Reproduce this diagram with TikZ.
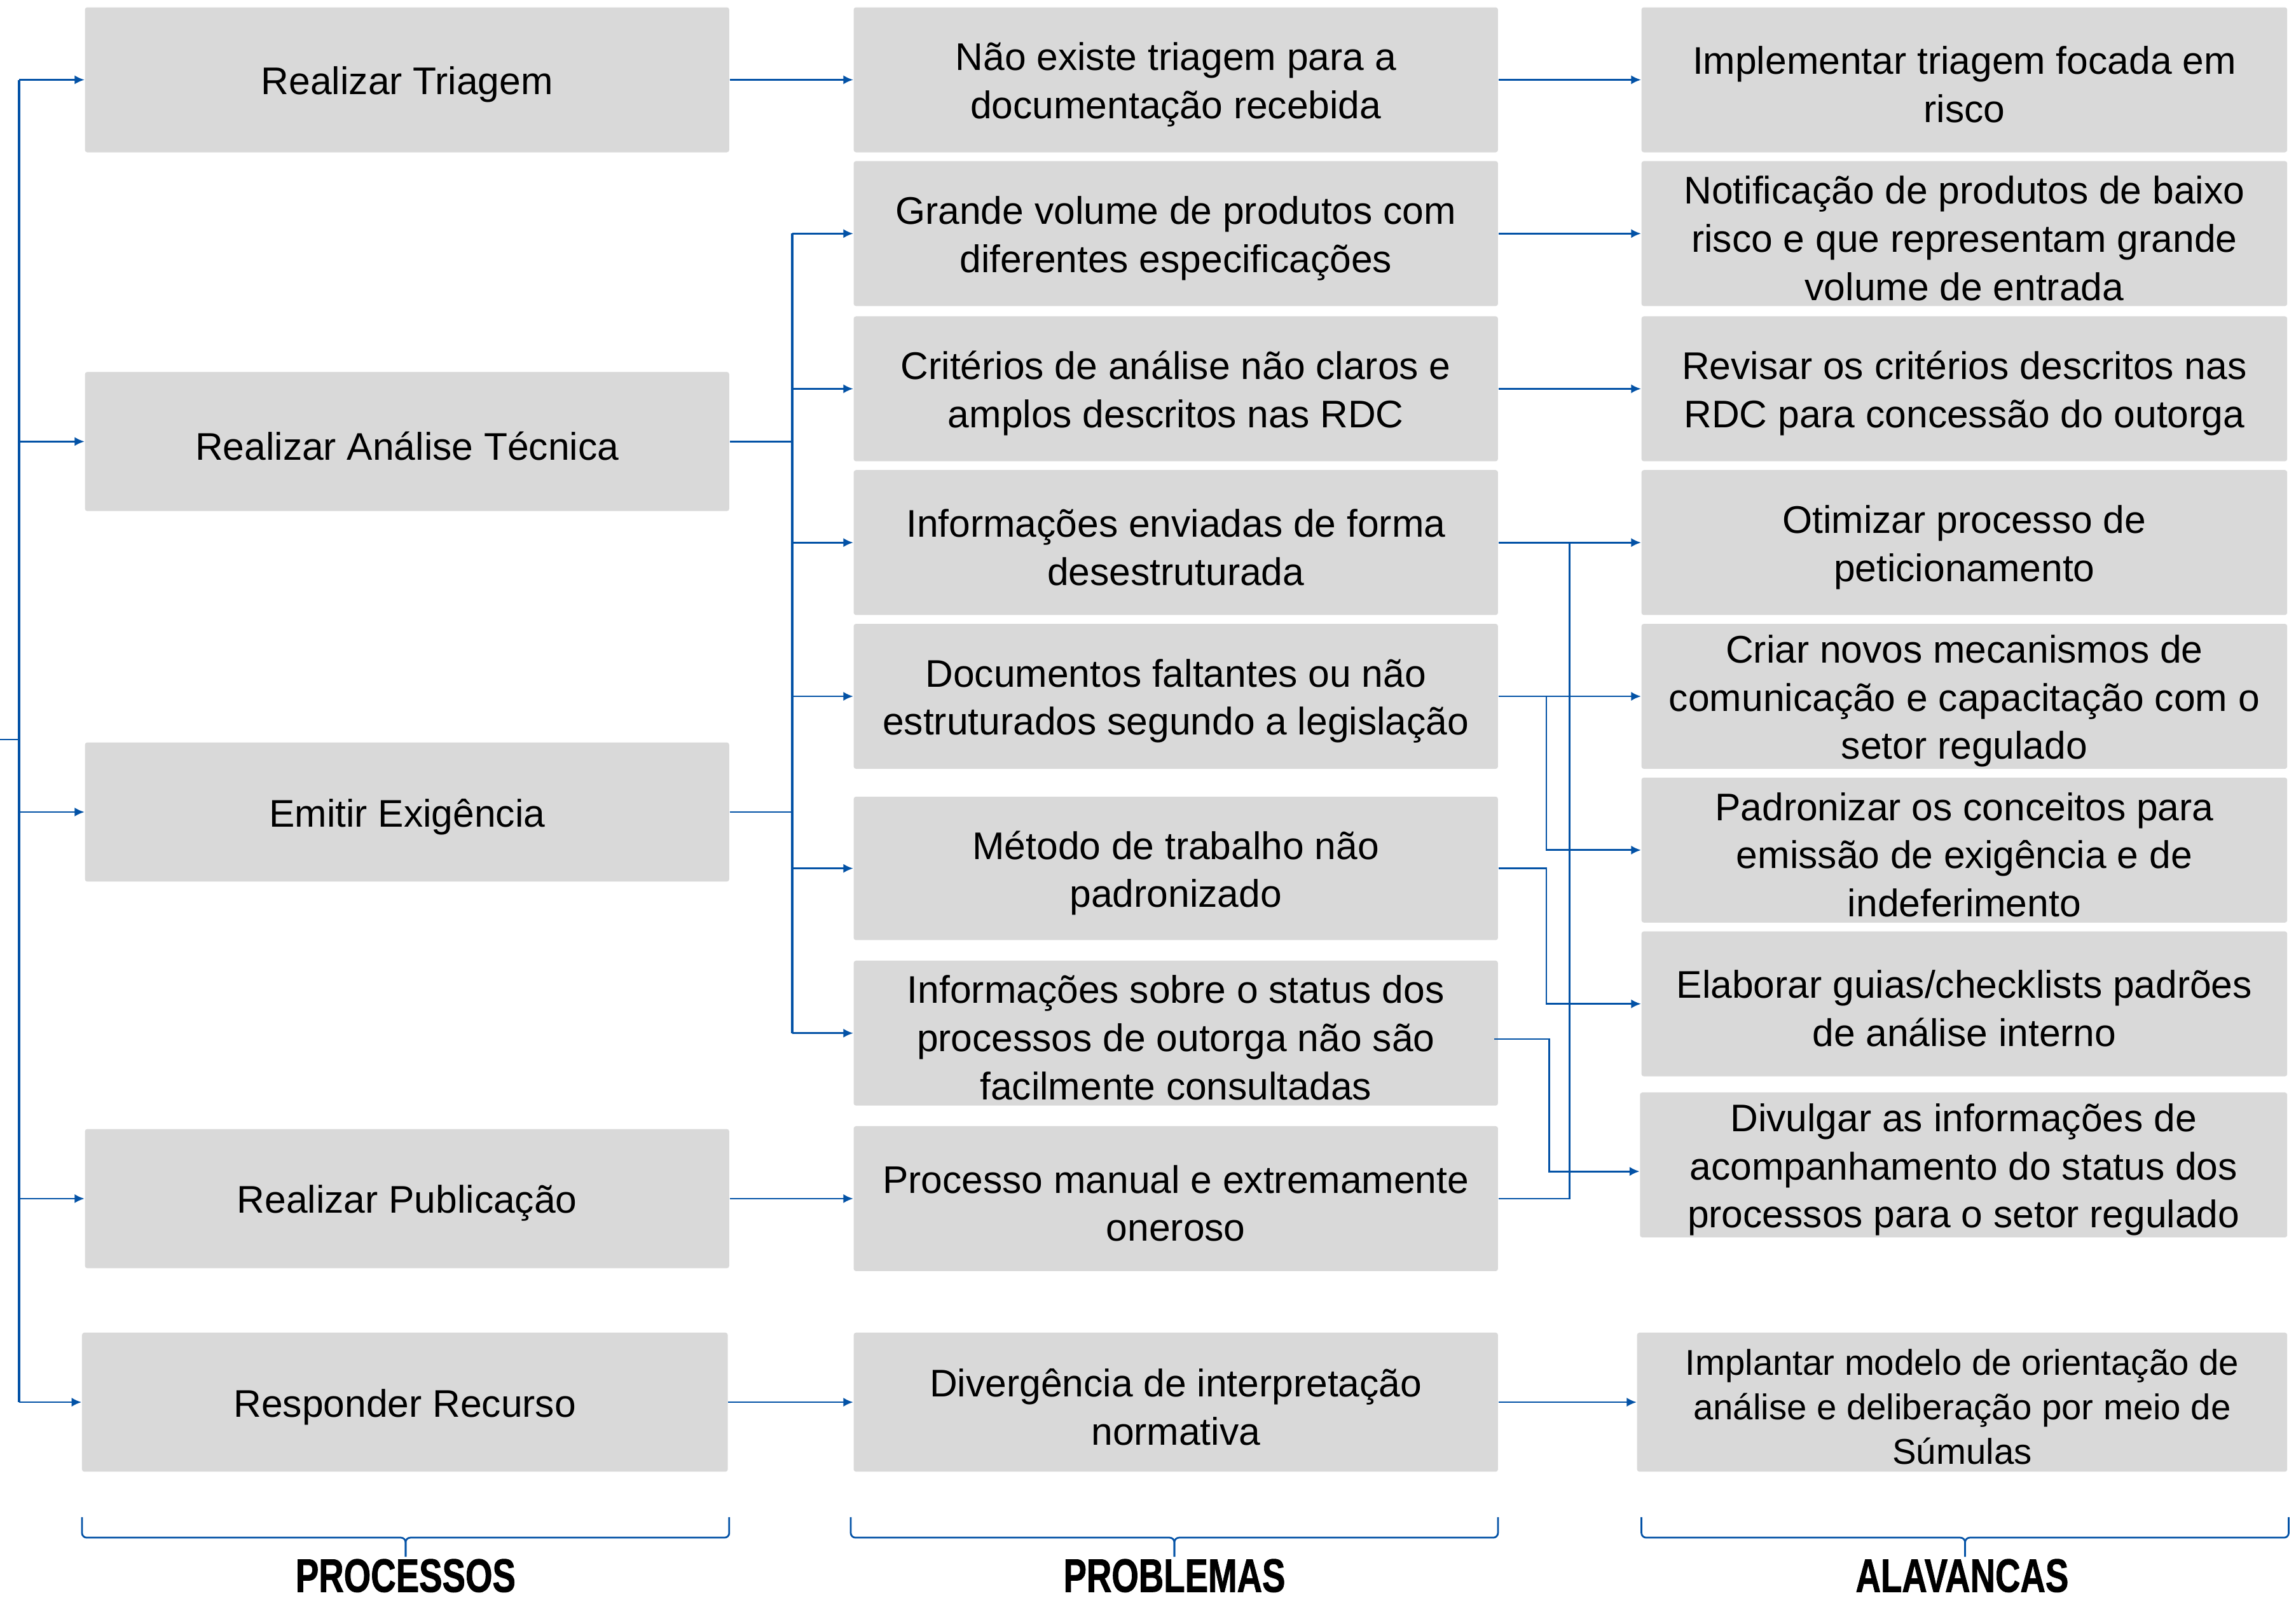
\documentclass[tikz,border=0pt]{standalone}
\usepackage{fontspec}
\setmainfont{Liberation Sans}
\newfontfamily\headfont{Liberation Sans}[BoldFeatures={FakeBold=1.3}]
\usetikzlibrary{arrows.meta,positioning}
\definecolor{lnkblue}{HTML}{0352A6}
\definecolor{boxgrey}{HTML}{D9D9D9}
\tikzset{every node/.style={font=\fontsize{18.7}{23.4}\selectfont},
  card/.style={fill=boxgrey,rounded corners=0.4mm,inner sep=0pt,
    minimum width=110mm,minimum height=24.75mm},
  cardtxt/.style={align=center,inner sep=0pt},
  headlabel/.style={font=\fontsize{22.8}{26}\selectfont\headfont\bfseries,anchor=base,inner sep=0pt}}
\newcommand{\fN}{\fontsize{17.4}{21.6}\selectfont}
% grey box with its text set a little below the middle
\newcommand{\card}[4][]{%
  \node[card,#1] (#2) at (#3) {};
  \node[cardtxt,#1] (#2t) at ([yshift=-0.8mm]#2.center) {#4};}
\newcommand{\bracket}[2]{%
  \pgfmathsetmacro{\xm}{(#1+#2)/2}%
  \draw[brk] (#1,1036) -- (#1,1050) -- (\xm,1050) -- (\xm,1063);
  \draw[brk] (#2,1036) -- (#2,1050) -- (\xm,1050) -- (\xm,1063);}

\begin{document}
\begin{tikzpicture}[x=0.25mm,y=-0.25mm,
    lnk/.style={draw=lnkblue,line width=0.85pt},
    bus/.style={draw=lnkblue,line width=1.15pt},
    arr/.style={lnk,-{Latex[length=1.7mm,width=1.55mm]}},
    brk/.style={draw=lnkblue,line width=0.85pt,rounded corners=0.8mm}]
  \path[use as bounding box] (0,0) rectangle (1568,1091);

  % Processos
  \card{proc1}{278,54.5}{Realizar Triagem}
  \card[minimum height=23.75mm]{proc2}{278,301.5}{Realizar Análise Técnica}
  \card[minimum height=23.75mm]{proc3}{278,554.5}{Emitir Exigência}
  \card[minimum height=23.75mm]{proc4}{278,818.5}{Realizar Publicação}
  \card[minimum height=23.75mm,minimum width=110.25mm]{proc5}{276.5,957.5}{Responder Recurso}

  % Problemas
  \card{prob1}{803,54.5}{Não existe triagem para a\\documentação recebida}
  \card{prob2}{803,159.5}{Grande volume de produtos com\\diferentes especificações}
  \card{prob3}{803,265.5}{Critérios de análise não claros e\\amplos descritos nas RDC}
  \card{prob4}{803,370.5}{Informações enviadas de forma\\desestruturada}
  \card{prob5}{803,475.5}{Documentos faltantes ou não\\estruturados segundo a legislação}
  \card[minimum height=24.5mm]{prob6}{803,593}{Método de trabalho não\\padronizado}
  \card{prob7}{803,705.5}{Informações sobre o status dos\\processos de outorga não são\\facilmente consultadas}
  \card{prob8}{803,818.5}{Processo manual e extremamente\\oneroso}
  \card[minimum height=23.75mm]{prob9}{803,957.5}{Divergência de interpretação\\normativa}

  % Alavancas
  \card[minimum width=110.25mm]{alav1}{1341.5,54.5}{Implementar triagem focada em\\risco}
  \card[minimum width=110.25mm]{alav2}{1341.5,159.5}{Notificação de produtos de baixo\\risco e que representam grande\\volume de entrada}
  \card[minimum width=110.25mm]{alav3}{1341.5,265.5}{Revisar os critérios descritos nas\\RDC para concessão do outorga}
  \card[minimum width=110.25mm]{alav4}{1341.5,370.5}{Otimizar processo de\\peticionamento}
  \card[minimum width=110.25mm]{alav5}{1341.5,475.5}{Criar novos mecanismos de\\comunicação e capacitação com o\\setor regulado}
  \card[minimum width=110.25mm]{alav6}{1341.5,580.5}{Padronizar os conceitos para\\emissão de exigência e de\\indeferimento}
  \card[minimum width=110.25mm]{alav7}{1341.5,685.5}{Elaborar guias/checklists padrões\\de análise interno}
  \card[minimum width=110.5mm]{alav8}{1341,795.5}{Divulgar as informações de\\acompanhamento do status dos\\processos para o setor regulado}
  \card[minimum width=111mm,minimum height=23.75mm,font=\fN]{alav9}{1340,957.5}{Implantar modelo de orientação de\\análise e deliberação por meio de\\Súmulas}

  % bus points
  \coordinate (root) at (0,505);
  \coordinate (lbus) at (13,505);
  \coordinate (mbus) at (541,0);
  \coordinate (rbusA) at (1072,0);
  \coordinate (rbusB) at (1056,0);
  \coordinate (rbusC) at (1058,0);
  \coordinate (p7out) at ([xshift=-0.75mm,yshift=-1mm]prob7.east);
  \coordinate (a8in) at ([yshift=-1.1mm]alav8.west);

  % left: entrada -> processos
  \draw[lnk] (root) -- (lbus);
  \draw[bus] (lbus |- proc1.west) -- (lbus |- proc5.west);
  \foreach \i in {1,...,5}
    \draw[arr] (lbus |- proc\i.west) -- (proc\i.west);

  % straight links
  \foreach \a/\b in {proc1/prob1,proc4/prob8,proc5/prob9,prob1/alav1,prob2/alav2,
      prob3/alav3,prob4/alav4,prob5/alav5,prob9/alav9}
    \draw[arr] (\a.east) -- (\b.west);

  % middle bus: analise tecnica + exigencia -> problemas
  \foreach \i in {2,3}
    \draw[lnk] (proc\i.east) -- (mbus |- proc\i.east);
  \draw[bus] (mbus |- prob2.west) -- (mbus |- prob7.west);
  \foreach \i in {2,...,7}
    \draw[arr] (mbus |- prob\i.west) -- (prob\i.west);

  % right elbows: problemas -> alavancas
  \draw[lnk] (prob8.east) -| (rbusA |- alav4.west);
  \draw[arr] (rbusB |- prob5.east) |- (alav6.west);
  \draw[arr] (prob6.east) -- (rbusB |- prob6.east) |- (alav7.west);
  \draw[arr] (p7out) -- (rbusC |- p7out) |- (a8in);

  % brackets and column titles
  \bracket{56}{498}
  \bracket{581}{1023}
  \bracket{1121}{1563}
  \node[headlabel] (hproc) at (277,1087) {\scalebox{0.74}[1]{PROCESSOS}};
  \node[headlabel] (hprob) at (802,1087) {\scalebox{0.74}[1]{PROBLEMAS}};
  \node[headlabel] (halav) at (1340,1087) {\scalebox{0.74}[1]{ALAVANCAS}};
\end{tikzpicture}
\end{document}
